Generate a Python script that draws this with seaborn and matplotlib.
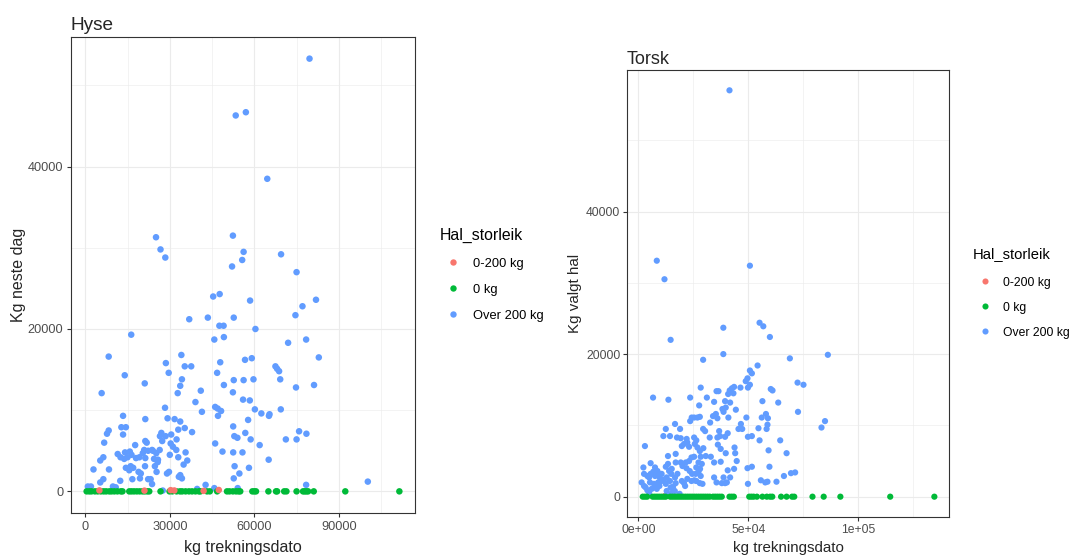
import numpy as np
import pandas as pd
import matplotlib
matplotlib.use("Agg")
import matplotlib.pyplot as plt
import seaborn as sns
from matplotlib.lines import Line2D

# ---------------- data: Hyse (left) ----------------
hyse_over_x = [79600, 53400, 57000, 64600,
    25100, 26700, 28400, 52400, 56200, 55700, 52100, 45400, 47700, 52700, 36900, 43500,
    47600, 49100, 45800, 49200, 16300, 8300, 14000, 5800, 21100, 28600, 29600, 34100,
    35300, 37600, 34300, 33700, 32800, 41000, 39100, 41400, 47900, 46800, 49200, 52700,
    52400, 56200, 56000, 46100, 47000, 48200, 47100, 28300, 29200, 31700, 33700, 33000,
    35300, 37900, 30500, 26500, 27000, 28500, 27300, 30300, 32400, 31100, 32300, 30000,
    33000, 35600, 36200, 34900, 33700, 34300, 33200, 29700, 29000, 25700, 26400, 25800,
    24700, 25300, 23200, 22300, 23700, 21200, 20400, 21300, 21800, 20900, 22300, 21300,
    19200, 18000, 17700, 21300, 13400, 12800, 14400, 13400, 8300, 7700, 6700, 5300,
    6400, 2900, 8400, 11500, 12500, 14100, 15800, 16400, 15000, 13800, 14400, 16100,
    17000, 15600, 18900, 19700, 19400, 16700, 12400, 6400, 5300, 9800, 10800, 900,
    2000, 24000, 25200, 24400, 23700, 27500, 39700, 42700, 45800, 52500, 52900, 54000,
    46100, 48700, 52500, 55800, 53000, 54700, 52700, 54100,
    69500, 75000, 58500, 81900, 77100, 74600, 60400, 72000, 78400, 56700, 59100, 82900,
    67500, 68100, 68800, 69200, 59700, 74800, 81200, 58400, 60200, 62500, 65200, 65400,
    69400, 57800, 56800, 58700, 61900, 71200, 75000, 75900, 78500, 65100, 58100, 78400,
    100300]
hyse_over_y = [53300, 46300, 46700, 38500,
    31300, 29800, 28800, 31500, 29500, 28500, 27700, 24000, 24300, 21400, 21200, 21400,
    20400, 20400, 18700, 19000, 19300, 16600, 14300, 12100, 13300, 15800, 14600, 16800,
    15400, 15400, 13800, 13000, 12100, 12400, 11000, 9800, 15900, 14600, 13100, 13700,
    12200, 13700, 11300, 10400, 10200, 9900, 9300, 10300, 9000, 8900, 8600, 7600,
    7800, 7300, 7000, 6800, 7200, 6800, 6200, 5900, 6400, 5500, 5100, 4500,
    4200, 4800, 3800, 3300, 2000, 1600, 1800, 2400, 2200, 3600, 5100, 3900,
    3100, 2400, 1500, 1500, 900, 3100, 4700, 6200, 6000, 5100, 5000, 4100,
    4200, 4100, 5700, 8900, 9300, 7900, 7900, 7000, 7500, 7100, 6000, 3800,
    4200, 2700, 2700, 4600, 4200, 4800, 4900, 4500, 4200, 4000, 2900, 3100,
    2900, 2600, 2400, 2200, 1600, 1500, 1300, 1500, 1100, 600, 500, 600,
    600, 5000, 4700, 4000, 5100, 100, 300, 800, 400, 8000, 6800, 6600,
    5900, 4900, 4800, 4800, 3100, 2200, 1600, 400,
    29200, 27000, 23500, 23600, 22800, 21700, 20000, 18300, 18700, 16200, 16400, 16500,
    15400, 15100, 14800, 13800, 13800, 12800, 13100, 11200, 10100, 9600, 9300, 9500,
    10100, 8800, 7200, 6400, 5700, 6400, 6400, 7400, 7100, 3900, 2900, 800,
    1200]
hyse_zero_x = [470, 1400, 2200, 3400, 4400, 5500, 6500, 7400, 8500, 9300, 10300, 11400,
    12600, 13200, 15600, 16400, 17300, 18300, 19300, 20300, 21100, 22000, 22700, 26700,
    29900, 30900, 32400, 33600, 34400, 35600, 36800, 37900, 39100, 40300, 40900, 43200,
    44200, 46800, 50300, 51200, 52400, 53500, 54400, 55000, 59300, 60000, 60600, 65000,
    67700, 68100, 70600, 71400, 75000, 77300, 77900, 78500, 79100, 81100, 92300, 111500]
hyse_small_x = [5000, 21000, 30300, 31600, 42000, 47400]
hyse_small_y = [120, 90, 150, 110, 60, 170]

# ---------------- data: Torsk (right) ----------------
torsk_over_x = [41500, 8400, 11900, 50800,
    14700, 38700, 55200, 56900, 59900, 38700, 29500, 69000, 86300,
    72500, 75200, 72700, 83400, 85000,
    6700, 13700, 23600, 28400, 31200, 35600, 36500, 27700, 34500, 41600, 42600, 43600,
    40900, 43300, 39500, 39800, 38300, 38800, 41800, 44400, 41000, 35300, 34000, 32700,
    36000, 29500, 30400, 26900, 28000, 24300, 25400, 23600, 49200, 46700, 45600, 47300,
    48900, 51700, 54300, 50800, 49700, 50800, 49900, 46500, 58100, 56200, 59000, 58800,
    58400, 54700, 56500, 60300, 61100, 63700, 49900, 51700, 55200, 59300, 64600, 67500,
    59700, 51700, 49700, 55800, 57800, 58800, 62900, 66300, 69500, 71400, 49900,
    16700, 19000, 12500, 11400, 14400, 17600, 19300, 22000, 22300, 20800, 19800, 23100,
    25400, 26400, 25700, 26900, 28000, 29600, 32500, 36000, 36800, 37200, 39500, 40700,
    36200, 37500, 39800, 43800, 44100, 44800, 40700, 38800, 40300, 41800, 43600, 39500,
    37500, 34500, 33000, 30700, 28400, 27400, 28900, 28100, 26400, 25400, 24200, 23100,
    21600, 20100, 19300, 21900, 23400, 24500, 26100, 27400, 28400, 29200, 26400, 28000,
    25500, 24200, 22300, 20800, 21300, 19800, 17800, 16700, 17000, 15800, 16600, 15000,
    15200, 17000, 17000, 13500, 12500, 13500, 14000, 12900, 14400, 14700, 12500, 10600,
    9700, 10600, 9600, 9000, 8400, 7900, 7100, 6100, 5300, 4900, 4100, 5600,
    2600, 2300, 5600, 7600, 8700, 6800, 7600, 1500, 2600, 3300, 4100, 4900,
    18800, 34500, 35600, 38000, 3000, 9400, 11700, 12900, 15500, 13200]
torsk_over_y = [57000, 33100, 30500, 32400,
    22000, 23700, 24400, 23900, 22400, 20000, 19200, 19400, 19900,
    16000, 15700, 11900, 9700, 10600,
    13900, 13600, 13900, 15300, 13900, 14800, 14800, 12800, 13300, 14900, 15200, 15400,
    14400, 14500, 13400, 12500, 12300, 11900, 13200, 12200, 11100, 11600, 11300, 10400,
    11000, 9500, 9200, 11100, 11200, 11100, 11100, 10600, 11100, 10200, 9500, 9500,
    16200, 17300, 18400, 17700, 16600, 15700, 15300, 15300, 11600, 11100, 11000, 10100,
    9500, 9600, 13400, 15100, 14900, 13200, 8400, 8500, 7900, 6500, 7900, 6100,
    4200, 4200, 4000, 2300, 2000, 2100, 2100, 2900, 3300, 3400, 1800,
    10200, 9500, 9500, 8500, 8500, 8300, 8200, 8100, 7600, 7400, 7100, 7000,
    8300, 7900, 7400, 6900, 6400, 6800, 8300, 8300, 9200, 8500, 8400, 8900,
    7300, 6700, 6100, 6900, 6100, 5000, 3700, 2700, 2000, 2700, 3900, 1900,
    4900, 4800, 5600, 5700, 5600, 4800, 4600, 3900, 4100, 5600, 5500, 5000,
    4800, 4300, 4800, 4000, 3600, 3200, 3200, 3500, 2900, 1800, 2200, 1900,
    2300, 2200, 2500, 1900, 1500, 2200, 3200, 2700, 1900, 1400, 800, 3200,
    3900, 4800, 6000, 5700, 4200, 4600, 3600, 2700, 2200, 1300, 1800, 3200,
    2700, 2200, 1500, 2000, 1100, 1500, 1800, 1100, 2000, 2700, 2900, 3200,
    3200, 4100, 4700, 4100, 3600, 3500, 2900, 2000, 1500, 1300, 900, 600,
    400, 2700, 2000, 1900, 7100, 3100, 2400, 800, 600, 400]
torsk_zero_x = [2000, 3000, 4000, 6500, 7500, 8500, 9500, 10500, 11500, 12500, 14500,
    15500, 16500, 17500, 18500, 19500, 20500, 21500, 22500, 23500, 24500, 25500, 26500,
    27500, 28500, 29500, 30500, 31500, 32500, 34000, 35000, 36000, 37000, 38000, 41500,
    42500, 43500, 50500, 51500, 52500, 54000, 56500, 58500, 60000, 61000, 65000, 67500,
    70000, 71000, 79300, 84400, 92000, 114700, 134800]
torsk_small_x = [12000]
torsk_small_y = [80]

# ---------------- labels / ticks ----------------
groups = ["0-200 kg", "0 kg", "Over 200 kg"]
colors = ["#F8766D", "#00BA38", "#619CFF"]
legend_title = "Hal_storleik"
x_label = "kg trekningsdato"
hyse_title, hyse_ylabel = "Hyse", "Kg neste dag"
torsk_title, torsk_ylabel = "Torsk", "Kg valgt hal"
hyse_xticks = [0, 30000, 60000, 90000]
hyse_xticklabels = ["0", "30000", "60000", "90000"]
hyse_xminor = [15000, 45000, 75000, 105000]
hyse_yticks = [0, 20000, 40000]
hyse_yminor = [10000, 30000, 50000]
torsk_xticks = [0, 50000, 100000]
torsk_xticklabels = ["0e+00", "5e+04", "1e+05"]
torsk_xminor = [25000, 75000, 125000]
torsk_yticks = [0, 20000, 40000]
torsk_yminor = [10000, 30000, 50000]

# ---------------- style ----------------
sns.set_style("white")
plt.rcParams['font.family'] = ['Liberation Sans', 'DejaVu Sans']
palette = dict(zip(groups, colors))

W, H, DPI = 1072, 555, 100
fig = plt.figure(figsize=(W / DPI, H / DPI), dpi=DPI)


def rect(l, t, r, b):
    return [l / W, 1 - b / H, (r - l) / W, (b - t) / H]


def frame(parts):
    dfs = []
    for g, xs, ys in parts:
        dfs.append(pd.DataFrame({"x": xs, "y": ys, "grp": g}))
    return pd.concat(dfs, ignore_index=True)


def style_axis(ax, df, xticks, xlabels, xminor, yticks, yminor, tsize, tpad):
    xr = df.x.max() - df.x.min()
    yr = df.y.max() - df.y.min()
    ax.set_xlim(df.x.min() - 0.05 * xr, df.x.max() + 0.05 * xr)
    ax.set_ylim(df.y.min() - 0.05 * yr, df.y.max() + 0.05 * yr)
    ax.set_xticks(xticks)
    ax.set_xticklabels(xlabels)
    ax.set_xticks(xminor, minor=True)
    ax.set_yticks(yticks)
    ax.set_yticklabels([str(v) for v in yticks])
    ax.set_yticks(yminor, minor=True)
    ax.grid(which="major", color="#EBEBEB", lw=0.8)
    ax.grid(which="minor", color="#EBEBEB", lw=0.4)
    ax.set_axisbelow(True)
    for s in ax.spines.values():
        s.set_color("#333333")
        s.set_linewidth(0.8)
    ax.tick_params(which="major", length=2.6, width=0.8, color="#333333",
                   labelcolor="#4D4D4D", labelsize=tsize, pad=tpad,
                   bottom=True, left=True)
    ax.tick_params(which="minor", length=0)


def fig_legend(title_xy, dot_x, text_x, dot_ys, base_ys, tsize, lsize, ms):
    tr = fig.transFigure
    fig.text(title_xy[0] / W, 1 - title_xy[1] / H, legend_title, fontsize=tsize,
             ha="left", va="baseline", color="black")
    for c, g, dy, by in zip(colors, groups, dot_ys, base_ys):
        fig.add_artist(Line2D([dot_x / W], [1 - dy / H], transform=tr, marker="o",
                              linestyle="", color=c, markersize=ms, markeredgewidth=0))
        fig.text(text_x / W, 1 - by / H, g, fontsize=lsize, ha="left",
                 va="baseline", color="black")


# ---- left panel ----
axL = fig.add_axes(rect(71, 37, 415, 513))
dfL = frame([("Over 200 kg", hyse_over_x, hyse_over_y),
             ("0 kg", hyse_zero_x, [0] * len(hyse_zero_x)),
             ("0-200 kg", hyse_small_x, hyse_small_y)])
sns.scatterplot(data=dfL, x="x", y="y", hue="grp", palette=palette, s=22,
                linewidth=0, ax=axL, legend=False)
style_axis(axL, dfL, hyse_xticks, hyse_xticklabels, hyse_xminor,
           hyse_yticks, hyse_yminor, 9.2, 3.0)
axL.set_xlabel(x_label, fontsize=11.5, labelpad=5.0)
axL.set_ylabel(hyse_ylabel, fontsize=11.5, labelpad=1.5)
axL.set_title(hyse_title, loc="left", fontsize=13.7, pad=5)
fig_legend((440, 239.5), 452.7, 473.3, (262.3, 288.3, 314), (267, 293.3, 319.3),
           11.4, 9.25, 4.6)

# ---- right panel ----
axR = fig.add_axes(rect(627, 70, 949, 517))
dfR = frame([("0-200 kg", torsk_small_x, torsk_small_y),
             ("Over 200 kg", torsk_over_x, torsk_over_y),
             ("0 kg", torsk_zero_x, [0] * len(torsk_zero_x))])
sns.scatterplot(data=dfR, x="x", y="y", hue="grp", palette=palette, s=20,
                linewidth=0, ax=axR, legend=False)
style_axis(axR, dfR, torsk_xticks, torsk_xticklabels, torsk_xminor,
           torsk_yticks, torsk_yminor, 8.7, 2.3)
axR.set_xlabel(x_label, fontsize=10.9, labelpad=4.0)
axR.set_ylabel(torsk_ylabel, fontsize=10.9, labelpad=3)
axR.set_title(torsk_title, loc="left", fontsize=13.0, pad=4.5)
fig_legend((972.7, 258.3), 985, 1003.3, (280.7, 305.7, 331), (285.7, 311, 335.7),
           10.6, 8.7, 4.4)

fig.savefig("out.png", dpi=DPI)
